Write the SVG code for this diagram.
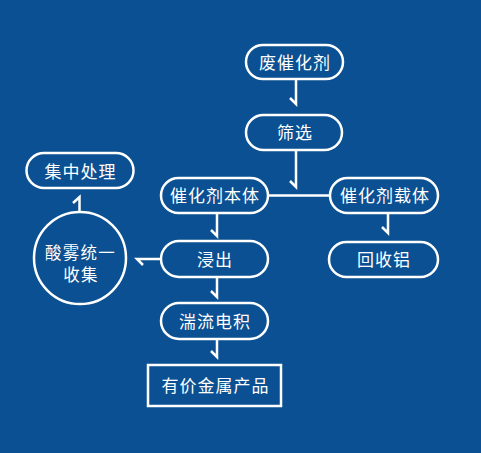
<svg xmlns="http://www.w3.org/2000/svg" width="481" height="453" viewBox="0 0 481 453">
<style>
.n{fill:none;stroke:#fff;stroke-width:2.5}
.t{fill:#fff;font-family:"Noto Sans CJK SC","Noto Sans",sans-serif;font-size:17px;letter-spacing:1px;text-anchor:middle}
.s{font-size:16.5px;letter-spacing:1.2px}
.c{fill:none;stroke:#fff;stroke-width:2.5;stroke-linejoin:miter}
</style>
<rect width="481" height="453" fill="#0b5092"/>
<g id="connectors">
<path class="c" d="M296,79 V104 L290,98"/>
<path class="c" d="M296,150 V187 L290,181"/>
<path class="c" d="M268,195.5 H330"/>
<path class="c" d="M217,213 V236 L211,230"/>
<path class="c" d="M388,213 V233 L382,227"/>
<path class="c" d="M161,259 H137 L143,265"/>
<path class="c" d="M79.5,212 V197 L73,203"/>
<path class="c" d="M217,277 V297 L211,291"/>
<path class="c" d="M217,339 V357 L211,351"/>
</g>
<g id="n1"><rect class="n" x="246" y="45" width="97" height="34" rx="17"/><text class="t" x="295" y="68.5">废催化剂</text></g>
<g id="n2"><rect class="n" x="246" y="115" width="96" height="35" rx="17.5"/><text class="t" x="295" y="139">筛选</text></g>
<g id="n3"><rect class="n" x="161" y="178" width="107" height="35" rx="17.5"/><text class="t" x="215" y="202">催化剂本体</text></g>
<g id="n4"><rect class="n" x="330" y="178" width="108" height="35" rx="17.5"/><text class="t" x="385" y="202">催化剂载体</text></g>
<g id="n5"><rect class="n" x="329" y="242" width="109" height="35" rx="17.5"/><text class="t" x="384" y="266">回收铝</text></g>
<g id="n6"><rect class="n" x="161" y="241" width="107" height="36" rx="18"/><text class="t" x="215" y="265.5">浸出</text></g>
<g id="n7"><rect class="n" x="161" y="303" width="107" height="36" rx="18"/><text class="t" x="215" y="327.5">湍流电积</text></g>
<g id="n8"><rect class="n" x="148" y="365" width="133" height="41"/><text class="t" x="215.5" y="392">有价金属产品</text></g>
<g id="n9"><rect class="n" x="26.5" y="153" width="107" height="35" rx="17.5"/><text class="t" x="80.5" y="178">集中处理</text></g>
<g id="n10"><circle class="n" cx="80" cy="258" r="46"/><text class="t s"><tspan x="80.5" y="258.5">酸雾统一</tspan><tspan x="81" y="281">收集</tspan></text></g>
</svg>
